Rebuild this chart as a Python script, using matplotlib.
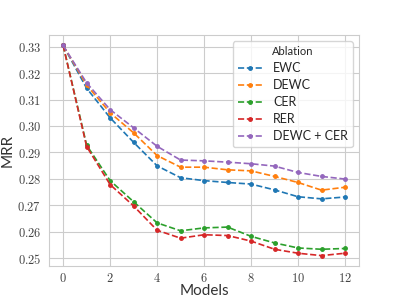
import matplotlib
matplotlib.use("Agg")
import matplotlib.pyplot as plt
import seaborn as sns
from matplotlib.ticker import FuncFormatter

models = list(range(13))

ewc = [0.3305, 0.3143, 0.3031, 0.2938, 0.2849, 0.2804, 0.2793, 0.2786, 0.2780, 0.2758, 0.2732, 0.2724, 0.2731]
dewc = [0.3305, 0.3155, 0.3050, 0.2974, 0.2888, 0.2844, 0.2844, 0.2834, 0.2830, 0.2809, 0.2786, 0.2757, 0.2768]
cer = [0.3305, 0.2927, 0.2793, 0.2713, 0.2633, 0.2603, 0.2614, 0.2617, 0.2582, 0.2557, 0.2538, 0.2533, 0.2536]
rer = [0.3305, 0.2922, 0.2778, 0.2697, 0.2605, 0.2575, 0.2588, 0.2585, 0.2564, 0.2533, 0.2518, 0.2509, 0.2518]
dewc_cer = [0.3305, 0.3163, 0.3062, 0.2993, 0.2923, 0.2871, 0.2868, 0.2863, 0.2857, 0.2848, 0.2824, 0.2809, 0.2799]

series = [("EWC", ewc), ("DEWC", dewc), ("CER", cer), ("RER", rer), ("DEWC + CER", dewc_cer)]

sns.set_style("whitegrid")
plt.rcParams['font.family'] = ['Lato', 'DejaVu Sans']
plt.rcParams['mathtext.fontset'] = 'cm'

fig = plt.figure(figsize=(3.99, 2.99), dpi=100)
ax = fig.add_axes([0.123, 0.110, 0.777, 0.773])

for name, vals in series:
    ax.plot(models, vals, "--", marker="o", ms=2.5, lw=1.2, label=name)

ax.set_xticks([0, 2, 4, 6, 8, 10, 12])
ax.xaxis.set_major_formatter(FuncFormatter(lambda v, p: f"${int(v)}$"))
ax.yaxis.set_major_formatter(FuncFormatter(lambda v, p: f"${v:.2f}$"))
ax.tick_params(axis="x", labelsize=9, colors="#444444", pad=0)
ax.tick_params(axis="y", labelsize=9, colors="#444444", pad=2)
ax.set_xlabel("Models", fontsize=11, color="#333333", labelpad=0)
ax.set_ylabel("MRR", fontsize=11, color="#333333", labelpad=2)

leg = ax.legend(title="Ablation", loc="upper right", fontsize=9, title_fontsize=8,
                labelspacing=0.4)

fig.savefig("out.png", dpi=100)
